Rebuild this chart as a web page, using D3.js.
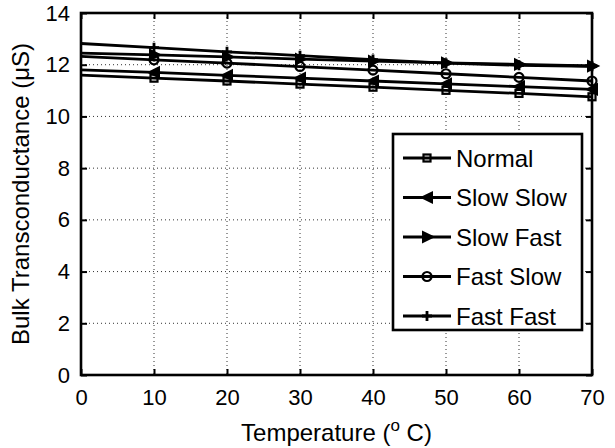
<!DOCTYPE html>
<html>
<head>
<meta charset="utf-8">
<script src="https://cdn.jsdelivr.net/npm/d3@7.9.0/dist/d3.min.js"></script>
<style>
  body { margin: 0; background: #fff; }
  svg { display: block; font-family: "Liberation Sans", Arial, sans-serif; }
</style>
</head>
<body>
<svg id="chart" width="615" height="448"></svg>
<script>
const temps = [0, 10, 20, 30, 40, 50, 60, 70];
const normal   = [11.60, 11.48, 11.37, 11.25, 11.13, 11.01, 10.89, 10.76];
const slowSlow = [11.80, 11.70, 11.59, 11.48, 11.37, 11.26, 11.15, 11.05];
const slowFast = [12.45, 12.38, 12.30, 12.22, 12.14, 12.07, 12.01, 11.95];
const fastSlow = [12.32, 12.19, 12.06, 11.93, 11.79, 11.65, 11.51, 11.37];
const fastFast = [12.82, 12.66, 12.50, 12.35, 12.20, 12.06, 11.98, 11.94];

const seriesNames = ['Normal', 'Slow Slow', 'Slow Fast', 'Fast Slow', 'Fast Fast'];
const seriesValues = [normal, slowSlow, slowFast, fastSlow, fastFast];
const markerKinds = ['square', 'left', 'right', 'circle', 'plus'];

const xTicks = d3.range(0, 71, 10);
const yTicks = d3.range(0, 15, 2);

const margin = { left: 81, top: 13, right: 23, bottom: 73 };
const width = 615 - margin.left - margin.right;
const height = 448 - margin.top - margin.bottom;

const svg = d3.select('#chart');
const g = svg.append('g').attr('transform', `translate(${margin.left},${margin.top})`);

const x = d3.scaleLinear().domain([0, 70]).range([0, width]);
const y = d3.scaleLinear().domain([0, 14]).range([height, 0]);

// dotted grid
g.selectAll('.gx').data(xTicks.slice(1, -1)).enter().append('line')
  .attr('x1', d => x(d)).attr('x2', d => x(d))
  .attr('y1', 0).attr('y2', height)
  .attr('stroke', '#333').attr('stroke-width', 1).attr('stroke-dasharray', '1,3');
g.selectAll('.gy').data(yTicks.slice(1, -1)).enter().append('line')
  .attr('y1', d => y(d)).attr('y2', d => y(d))
  .attr('x1', 0).attr('x2', width)
  .attr('stroke', '#333').attr('stroke-width', 1).attr('stroke-dasharray', '1,3');

// axes with inward ticks on all sides
const fontSize = 22;
const axisStyle = sel => {
  sel.select('.domain').remove();
  sel.selectAll('.tick line').attr('stroke', '#000').attr('stroke-width', 2);
  sel.selectAll('.tick text').attr('font-size', fontSize).attr('fill', '#000')
    .attr('font-family', '"Liberation Sans", Arial, sans-serif');
};
g.append('g').attr('transform', `translate(0,${height})`)
  .call(d3.axisBottom(x).tickValues(xTicks).tickSize(-6).tickPadding(14))
  .call(axisStyle);
g.append('g')
  .call(d3.axisLeft(y).tickValues(yTicks).tickSize(-6).tickPadding(11))
  .call(axisStyle);
g.append('g')
  .call(d3.axisTop(x).tickValues(xTicks).tickSize(-6).tickFormat(''))
  .call(axisStyle);
g.append('g').attr('transform', `translate(${width},0)`)
  .call(d3.axisRight(y).tickValues(yTicks).tickSize(-6).tickFormat(''))
  .call(axisStyle);

// series
const line = d3.line().x((d, i) => x(temps[i])).y(d => y(d));

function drawMarker(sel, kind) {
  const s = 5;
  if (kind === 'square') {
    sel.append('rect').attr('x', -3.5).attr('y', -3.5).attr('width', 7).attr('height', 7)
      .attr('fill', 'none').attr('stroke', '#000').attr('stroke-width', 2.2);
  } else if (kind === 'circle') {
    sel.append('circle').attr('r', 4.5)
      .attr('fill', 'none').attr('stroke', '#000').attr('stroke-width', 2.2);
  } else if (kind === 'left') {
    sel.append('path').attr('d', `M${-s},0L${s},${-s}L${s},${s}Z`)
      .attr('fill', '#000').attr('stroke', '#000').attr('stroke-width', 2);
  } else if (kind === 'right') {
    sel.append('path').attr('d', `M${s + 1},0L${-s + 1},${-s}L${-s + 1},${s}Z`)
      .attr('fill', '#000').attr('stroke', '#000').attr('stroke-width', 2);
  } else if (kind === 'plus') {
    sel.append('path').attr('d', `M${-s},0H${s}M0,${-s}V${s}`)
      .attr('stroke', '#000').attr('stroke-width', 2.8);
  }
}

seriesValues.forEach((vals, k) => {
  g.append('path').datum(vals)
    .attr('d', line)
    .attr('fill', 'none').attr('stroke', '#000').attr('stroke-width', 2.8);
  vals.forEach((v, i) => {
    if (temps[i] === 0) return;
    const m = g.append('g').attr('transform', `translate(${x(temps[i])},${y(v)})`);
    drawMarker(m, markerKinds[k]);
  });
});

// box
g.append('rect').attr('width', width).attr('height', height)
  .attr('fill', 'none').attr('stroke', '#000').attr('stroke-width', 2.6);

// legend
const lg = svg.append('g').attr('transform', 'translate(393,134)');
lg.append('rect').attr('width', 189).attr('height', 196)
  .attr('fill', '#fff').attr('stroke', '#000').attr('stroke-width', 2.6);
seriesNames.forEach((name, k) => {
  const yy = 24 + k * 39.5;
  lg.append('line').attr('x1', 10).attr('x2', 58).attr('y1', yy).attr('y2', yy)
    .attr('stroke', '#000').attr('stroke-width', 2.8);
  const m = lg.append('g').attr('transform', `translate(34,${yy})`);
  drawMarker(m, markerKinds[k]);
  lg.append('text').attr('x', 63).attr('y', yy).attr('dy', '0.36em')
    .attr('font-size', 24).text(name);
});

// axis labels
const xl = svg.append('text').attr('x', margin.left + width / 2).attr('y', 441)
  .attr('text-anchor', 'middle').attr('font-size', 24);
xl.append('tspan').text('Temperature (');
xl.append('tspan').attr('font-size', 17).attr('dy', -10).text('o');
xl.append('tspan').attr('dy', 10).text(' C)');

svg.append('text')
  .attr('transform', `translate(29,${margin.top + height / 2}) rotate(-90)`)
  .attr('text-anchor', 'middle').attr('font-size', 24)
  .text('Bulk Transconductance (\u03bcS)');
</script>
</body>
</html>
